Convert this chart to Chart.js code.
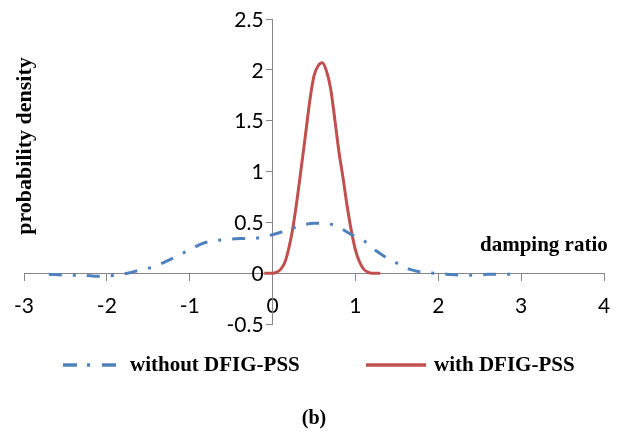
<!DOCTYPE html>
<html>
<head>
<meta charset="utf-8">
<title>probability density</title>
<script src="https://cdn.jsdelivr.net/npm/chart.js@4.4.1/dist/chart.umd.min.js"></script>
<style>
  html, body { margin: 0; padding: 0; background: #fff; }
  #wrap { width: 632px; height: 431px; }
</style>
</head>
<body>
<div id="wrap"><canvas id="densityChart"></canvas></div>
<script>
// values (damping ratio -> density)
const xWithout = [-2.7, -2.5, -2.3, -2.1, -1.9, -1.75, -1.6, -1.45, -1.3, -1.15, -1.0, -0.85, -0.7, -0.55, -0.4, -0.25, -0.1,
  0.05, 0.2, 0.35, 0.5, 0.65, 0.8, 0.95, 1.1, 1.25, 1.4, 1.55, 1.65, 1.8, 1.95, 2.1, 2.3, 2.45, 2.6, 2.75, 2.9];
const yWithout = [-0.01, -0.02, -0.02, -0.03, -0.02, 0, 0.03, 0.06, 0.11, 0.17, 0.23, 0.29, 0.32, 0.33, 0.34, 0.34, 0.36,
  0.39, 0.43, 0.47, 0.49, 0.49, 0.45, 0.38, 0.32, 0.22, 0.14, 0.08, 0.04, 0.01, 0, -0.01, -0.02, -0.02, -0.01, -0.01, -0.01];

const xWith = [-0.1, -0.05, 0, 0.05, 0.1, 0.15, 0.2, 0.25, 0.3, 0.35, 0.4, 0.45, 0.5, 0.55, 0.6, 0.65, 0.7,
  0.75, 0.8, 0.85, 0.9, 0.95, 1.0, 1.05, 1.1, 1.15, 1.2, 1.25, 1.3];
const yWith = [0, 0, 0, 0.01, 0.04, 0.11, 0.26, 0.47, 0.75, 1.06, 1.38, 1.7, 1.94, 2.04, 2.07, 1.99, 1.82,
  1.52, 1.2, 0.94, 0.66, 0.42, 0.23, 0.11, 0.04, 0.01, 0, 0, 0];

const xRange = [-3, 4];
const yRange = [-0.5, 2.5];

const seriesNames = ['without DFIG-PSS', 'with DFIG-PSS'];
const yTitle = 'probability density';
const xTitle = 'damping ratio';
const caption = '(b)';

const AXIS_GRAY = '#868686';
const BLUE = '#4F81BD';
const RED = '#C0504D';
const SERIF = '"Liberation Serif", "Times New Roman", serif';
const TICK_FONT = '21px Lato';

function toPoints(xs, ys) {
  return xs.map((x, i) => ({ x: x, y: ys[i] }));
}

// y labels sit left of the y=0 crossing axis; chart.js puts them right on the line, so draw them here
const yLabels = {
  id: 'yLabels',
  afterDraw(chart) {
    const ctx = chart.ctx;
    const yScale = chart.scales.y;
    const axisX = chart.scales.x.getPixelForValue(0);
    ctx.save();
    ctx.font = TICK_FONT;
    ctx.fillStyle = '#000';
    ctx.textAlign = 'right';
    ctx.textBaseline = 'middle';
    yScale.ticks.forEach(t => {
      ctx.fillText(t.label, axisX - 9, yScale.getPixelForValue(t.value) + 1);
    });
    ctx.restore();
  }
};

// free text of the figure: axis captions and the legend row
const figureText = {
  id: 'figureText',
  afterDraw(chart) {
    const ctx = chart.ctx;
    const sets = chart.data.datasets;
    ctx.save();
    ctx.fillStyle = '#000';
    ctx.font = 'bold 21px ' + SERIF;
    ctx.textBaseline = 'alphabetic';
    ctx.textAlign = 'left';

    ctx.fillText(xTitle, 480, 251);

    ctx.save();
    ctx.translate(31, 146);
    ctx.rotate(-Math.PI / 2);
    ctx.textAlign = 'center';
    ctx.font = 'bold 22px ' + SERIF;
    ctx.fillText(yTitle, 0, 0);
    ctx.restore();

    // legend
    const items = [
      { x0: 63, x1: 116, tx: 130, dash: [14, 10, 3, 12] },
      { x0: 366, x1: 426, tx: 434, dash: [] }
    ];
    items.forEach((it, i) => {
      ctx.save();
      ctx.strokeStyle = sets[i].borderColor;
      ctx.lineWidth = 3.5;
      ctx.setLineDash(it.dash);
      ctx.beginPath();
      ctx.moveTo(it.x0, 365);
      ctx.lineTo(it.x1, 365);
      ctx.stroke();
      ctx.restore();
      ctx.fillText(sets[i].label, it.tx, 371);
    });
    ctx.restore();
  }
};

const ctx = document.getElementById('densityChart').getContext('2d');
const densityChart = new Chart(ctx, {
  type: 'scatter',
  data: {
    datasets: [
      {
        label: seriesNames[0],
        data: toPoints(xWithout, yWithout),
        showLine: true,
        borderColor: BLUE,
        backgroundColor: BLUE,
        borderWidth: 3,
        borderDash: [13, 11, 3, 11],
        pointRadius: 0,
        cubicInterpolationMode: 'monotone'
      },
      {
        label: seriesNames[1],
        data: toPoints(xWith, yWith),
        showLine: true,
        borderColor: RED,
        backgroundColor: RED,
        borderWidth: 3,
        pointRadius: 0,
        cubicInterpolationMode: 'monotone'
      }
    ]
  },
  options: {
    responsive: true,
    maintainAspectRatio: false,
    animation: false,
    layout: {
      padding: { left: 24, right: 28, top: 19, bottom: 0 }
    },
    plugins: {
      legend: { display: false },
      tooltip: { enabled: false },
      title: {
        display: true,
        position: 'bottom',
        text: caption,
        color: '#000',
        font: { family: SERIF, size: 20, weight: 'bold' },
        padding: { top: 83, bottom: 0 }
      }
    },
    scales: {
      x: {
        type: 'linear',
        position: { y: 0 },
        min: xRange[0],
        max: xRange[1],
        ticks: {
          stepSize: 1,
          color: '#000',
          padding: 13,
          font: { family: 'Lato', size: 21 }
        },
        grid: {
          drawOnChartArea: false,
          drawTicks: true,
          tickLength: 7,
          color: AXIS_GRAY
        },
        border: { display: true, color: AXIS_GRAY, width: 1 }
      },
      y: {
        type: 'linear',
        position: { x: 0 },
        min: yRange[0],
        max: yRange[1],
        ticks: {
          display: false,
          stepSize: 0.5,
          callback: v => String(Number(v.toFixed(1)))
        },
        grid: {
          drawOnChartArea: false,
          drawTicks: true,
          tickLength: 6,
          color: AXIS_GRAY
        },
        border: { display: true, color: AXIS_GRAY, width: 1 }
      }
    }
  },
  plugins: [yLabels, figureText]
});
</script>
</body>
</html>
